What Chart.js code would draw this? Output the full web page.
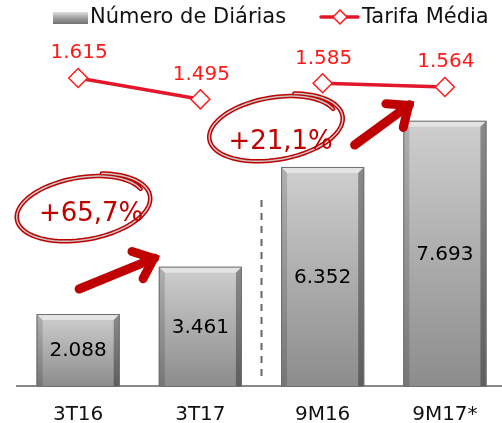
<!DOCTYPE html>
<html>
<head>
<meta charset="utf-8">
<script src="https://cdn.jsdelivr.net/npm/chart.js@4.4.1/dist/chart.umd.min.js"></script>
<style>
  html, body { margin: 0; padding: 0; background: #fff; overflow: hidden; }
</style>
</head>
<body>
<canvas id="chart" width="506" height="423"></canvas>
<script>
// === DATA ===
const categories = ["3T16", "3T17", "9M16", "9M17*"];
const diarias = [2088, 3461, 6352, 7693];
const tarifa = [1615, 1495, 1585, 1564];
const growthLabels = ["+65,7%", "+21,1%"];
const seriesNames = ["Número de Diárias", "Tarifa Média"];

const FONT = "'DejaVu Sans', Verdana, sans-serif";
const lineRed = "#E3172B";
const labelRed = "#FF1A1A";
const darkRed = "#C00000";

// 2088 -> "2.088"
function fmt(n) {
    return String(n).replace(/\B(?=(\d{3})+(?!\d))/g, ".");
}

function barFill(c) {
    const chart = c.chart;
    if (!chart.chartArea || c.dataIndex === undefined) return "#aaa";
    const ys = chart.scales.y;
    const top = ys.getPixelForValue(c.raw);
    const g = chart.ctx.createLinearGradient(0, top, 0, ys.getPixelForValue(0));
    g.addColorStop(0, "#cfcfcf");
    g.addColorStop(1, "#8c8c8c");
    return g;
}

// bevel look on the bars
const bevel = {
    id: "bevel",
    afterDatasetDraw(chart, args) {
        if (chart.data.datasets[args.index].type === "line") return;
        const ctx = chart.ctx;
        const b = 6;
        args.meta.data.forEach((bar) => {
            const l = bar.x - bar.width / 2, r = bar.x + bar.width / 2;
            const t = bar.y, bot = bar.base;
            ctx.save();
            // top
            ctx.fillStyle = "#e4e4e4";
            ctx.beginPath();
            ctx.moveTo(l, t); ctx.lineTo(r, t); ctx.lineTo(r - b, t + b); ctx.lineTo(l + b, t + b);
            ctx.closePath(); ctx.fill();
            // right side
            const gr = ctx.createLinearGradient(0, t, 0, bot);
            gr.addColorStop(0, "#8a8a8a"); gr.addColorStop(1, "#5e5e5e");
            ctx.fillStyle = gr;
            ctx.beginPath();
            ctx.moveTo(r, t); ctx.lineTo(r, bot); ctx.lineTo(r - b, bot); ctx.lineTo(r - b, t + b);
            ctx.closePath(); ctx.fill();
            // left side
            const gl = ctx.createLinearGradient(0, t, 0, bot);
            gl.addColorStop(0, "#b0b0b0"); gl.addColorStop(1, "#767676");
            ctx.fillStyle = gl;
            ctx.beginPath();
            ctx.moveTo(l, t); ctx.lineTo(l + b, t + b); ctx.lineTo(l + b, bot); ctx.lineTo(l, bot);
            ctx.closePath(); ctx.fill();
            ctx.strokeStyle = "#6f6f6f";
            ctx.lineWidth = 1;
            ctx.strokeRect(l + 0.5, t + 0.5, bar.width - 1, bot - t);
            ctx.restore();
        });
    },
};

// values on bars and above the line points
const valueLabels = {
    id: "valueLabels",
    afterDatasetsDraw(chart) {
        const ctx = chart.ctx;
        ctx.save();
        ctx.font = "20px " + FONT;
        ctx.textAlign = "center";
        ctx.textBaseline = "middle";
        chart.data.datasets.forEach((ds, i) => {
            const meta = chart.getDatasetMeta(i);
            meta.data.forEach((el, j) => {
                if (ds.type === "line") {
                    ctx.fillStyle = labelRed;
                    ctx.fillText(fmt(ds.data[j]), el.x + 1, el.y - 25);
                } else {
                    ctx.fillStyle = "#000";
                    ctx.fillText(fmt(ds.data[j]), el.x, (el.y + el.base) / 2 + 1);
                }
            });
        });
        ctx.restore();
    },
};

function handEllipse(ctx, cx, cy, rx, ry, rot) {
    const pts = [];
    const t0 = -1.2, span = Math.PI * 2 + 0.9;
    for (let k = 0; k <= 120; k++) {
        const t = t0 + (span * k) / 120;
        const s = 1 - 0.09 * (k / 120);
        const ex = rx * s * Math.cos(t), ey = ry * s * Math.sin(t);
        pts.push([cx + ex * Math.cos(rot) - ey * Math.sin(rot), cy + ex * Math.sin(rot) + ey * Math.cos(rot)]);
    }
    const path = () => {
        ctx.beginPath();
        pts.forEach((p, k) => (k ? ctx.lineTo(p[0], p[1]) : ctx.moveTo(p[0], p[1])));
    };
    ctx.lineCap = "round";
    path(); ctx.strokeStyle = darkRed; ctx.lineWidth = 4.5; ctx.stroke();
    path(); ctx.strokeStyle = "#c8c8c8"; ctx.lineWidth = 1.5; ctx.stroke();
}

function arrow(ctx, x1, y1, x2, y2) {
    const a = Math.atan2(y2 - y1, x2 - x1);
    const h = 26, sp = 0.6;
    ctx.save();
    ctx.strokeStyle = darkRed;
    ctx.lineWidth = 9;
    ctx.lineJoin = "miter";
    ctx.beginPath();
    ctx.moveTo(x1, y1); ctx.lineTo(x2 - 3 * Math.cos(a), y2 - 3 * Math.sin(a));
    ctx.stroke();
    ctx.beginPath();
    ctx.moveTo(x2 - h * Math.cos(a - sp), y2 - h * Math.sin(a - sp));
    ctx.lineTo(x2 - 4 * Math.cos(a), y2 - 4 * Math.sin(a));
    ctx.lineTo(x2 - h * Math.cos(a + sp), y2 - h * Math.sin(a + sp));
    ctx.stroke();
    ctx.restore();
}

// separator, growth notes, arrows, legend
const decorations = {
    id: "decorations",
    afterDraw(chart) {
        const ctx = chart.ctx;
        const xs = chart.scales.x;
        const p = (i) => xs.getPixelForValue(i);
        ctx.save();
        // dashed separator between quarter and 9-month groups
        ctx.strokeStyle = "#666";
        ctx.lineWidth = 2;
        ctx.setLineDash([7, 6]);
        ctx.beginPath();
        ctx.moveTo((p(1) + p(2)) / 2, 200);
        ctx.lineTo((p(1) + p(2)) / 2, 378);
        ctx.stroke();
        ctx.setLineDash([]);

        handEllipse(ctx, p(0) + 4, 208, 70, 33, -0.17);
        handEllipse(ctx, p(2) - 48, 128, 70, 33, -0.17);
        ctx.fillStyle = darkRed;
        ctx.font = "26px " + FONT;
        ctx.textAlign = "center";
        ctx.textBaseline = "middle";
        ctx.fillText(growthLabels[0], p(0) + 13, 214);
        ctx.fillText(growthLabels[1], p(2) - 42, 142);

        arrow(ctx, p(0) + 1, 289, p(1) - 43, 257);
        arrow(ctx, p(2) + 32, 145, p(3) - 33, 103);

        // legend
        const g = ctx.createLinearGradient(0, 12, 0, 25);
        g.addColorStop(0, "#e0e0e0"); g.addColorStop(0.5, "#9a9a9a"); g.addColorStop(1, "#6a6a6a");
        ctx.fillStyle = g;
        ctx.fillRect(53, 12, 35, 12);
        ctx.font = "21px " + FONT;
        ctx.textAlign = "left";
        ctx.fillStyle = "#111";
        ctx.fillText(seriesNames[0], 90, 18);
        ctx.strokeStyle = lineRed;
        ctx.lineWidth = 3.5;
        ctx.beginPath(); ctx.moveTo(321, 17); ctx.lineTo(358, 17); ctx.stroke();
        ctx.fillStyle = "#fff";
        ctx.strokeStyle = labelRed;
        ctx.lineWidth = 1.5;
        ctx.beginPath();
        ctx.moveTo(340, 10); ctx.lineTo(347, 17); ctx.lineTo(340, 24); ctx.lineTo(333, 17);
        ctx.closePath(); ctx.fill(); ctx.stroke();
        ctx.fillStyle = "#111";
        ctx.fillText(seriesNames[1], 362, 18);
        ctx.restore();
    },
};

// === CHART ===
const ctx = document.getElementById("chart").getContext("2d");
const chart = new Chart(ctx, {
    type: "bar",
    data: {
        labels: categories,
        datasets: [
            {
                type: "line",
                label: seriesNames[1],
                data: tarifa,
                yAxisID: "y2",
                order: 0,
                borderColor: lineRed,
                borderWidth: 3.5,
                tension: 0,
                pointStyle: "rectRot",
                pointRadius: 9.5,
                pointBackgroundColor: "#fff",
                pointBorderColor: labelRed,
                pointBorderWidth: 1.5,
                segment: {
                    // no line between the quarter and the 9-month group
                    borderColor: (c) => (c.p0DataIndex === 1 ? "rgba(0,0,0,0)" : lineRed),
                },
            },
            {
                label: seriesNames[0],
                data: diarias,
                yAxisID: "y",
                order: 1,
                backgroundColor: barFill,
                borderWidth: 0,
                barPercentage: 0.68,
                categoryPercentage: 1,
            },
        ],
    },
    options: {
        responsive: false,
        animation: false,
        layout: { autoPadding: false, padding: { top: 50, left: 17, right: 0, bottom: -21 } },
        plugins: {
            legend: { display: false },
            tooltip: { enabled: false },
        },
        scales: {
            x: {
                grid: { display: false, drawTicks: false },
                border: { color: "#888", width: 2 },
                ticks: {
                    color: "#111",
                    font: { family: FONT, size: 20, lineHeight: 1 },
                    padding: 19,
                },
            },
            y: { display: false, min: 0, max: 9744 },
            y2: { display: false, min: -115, max: 1772 },
        },
    },
    plugins: [bevel, valueLabels, decorations],
});
</script>
</body>
</html>
